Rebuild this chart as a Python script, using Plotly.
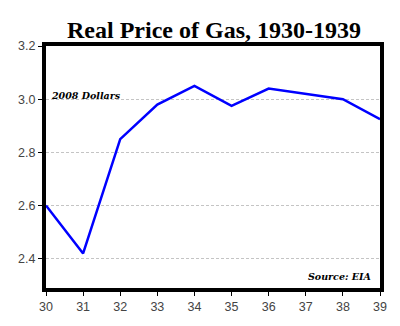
import plotly.graph_objects as go

years = [30, 31, 32, 33, 34, 35, 36, 37, 38, 39]
price = [2.60, 2.42, 2.85, 2.98, 3.05, 2.975, 3.04, 3.02, 3.00, 2.925]
yticks = [2.4, 2.6, 2.8, 3.0, 3.2]

fig = go.Figure()
fig.add_trace(go.Scatter(x=years, y=price, mode="lines",
                         line=dict(color="#0000ff", width=2.5)))

fig.update_layout(
    width=400, height=326,
    margin=dict(l=46, r=20, t=46, b=29),
    paper_bgcolor="white", plot_bgcolor="white",
    showlegend=False,
    title=dict(text="<b>Real Price of Gas, 1930-1939</b>", x=0.535, xanchor="center",
               y=0.91, yanchor="middle",
               font=dict(family="Liberation Serif", size=24, color="black")),
    xaxis=dict(range=[30, 39], tickvals=years, ticktext=[str(y) for y in years],
               showgrid=False, zeroline=False,
               showline=True, linecolor="black", linewidth=4, mirror=True,
               ticks="outside", ticklen=4, tickcolor="black",
               tickfont=dict(family="Liberation Sans", size=12.5, color="#444444")),
    yaxis=dict(range=[2.29, 3.2], tickvals=yticks, ticktext=["2.4", "2.6", "2.8", "3.0", "3.2"],
               showgrid=True, gridcolor="#c4c4c4", griddash="3px,2px", gridwidth=1,
               zeroline=False,
               showline=True, linecolor="black", linewidth=4, mirror=True,
               ticks="outside", ticklen=4, tickcolor="black",
               tickfont=dict(family="Liberation Sans", size=12.5, color="#444444")),
    annotations=[
        dict(text="<b><i>2008 Dollars</i></b>", xref="paper", yref="paper",
             x=0.009, y=0.797, xanchor="left", yanchor="middle",
             showarrow=False,
             font=dict(family="DejaVu Serif", size=9.5, color="black")),
        dict(text="<b><i>Source: EIA</i></b>", xref="paper", yref="paper",
             x=0.979, y=0.048, xanchor="right", yanchor="middle",
             showarrow=False,
             font=dict(family="DejaVu Serif", size=9.5, color="black")),
    ],
)

fig.write_html("out.html")
